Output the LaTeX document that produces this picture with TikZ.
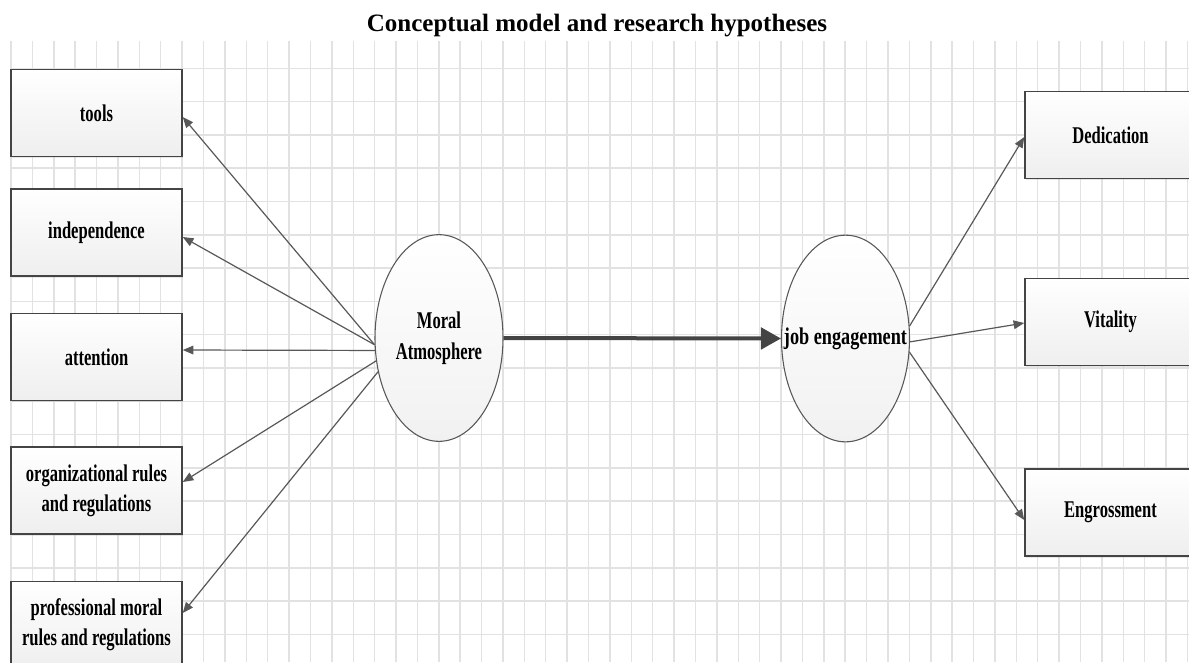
\documentclass[tikz,border=0pt]{standalone}
\usepackage{fontspec}
\setmainfont{Liberation Serif}
\newfontfamily\narrowserif[FakeStretch=0.69]{Liberation Serif}
\newfontfamily\halfnarrowserif[FakeStretch=0.76]{Liberation Serif}
\usetikzlibrary{shapes.geometric,arrows.meta,shadows,calc}
\definecolor{gridgray}{RGB}{226,226,226}
\definecolor{edgegray}{RGB}{68,68,68}
\definecolor{arrowgray}{RGB}{88,88,88}
\tikzset{
  headline/.style = {font=\bfseries\fontsize{18.75}{22}\selectfont, anchor=base},
  factor/.style   = {rectangle, draw=edgegray, line width=1.1pt, top color=white, bottom color=gray!13, minimum width=128.25pt, minimum height=65.25pt, inner sep=2pt, align=center, font=\narrowserif\bfseries\fontsize{18}{22.5}\selectfont, drop shadow={opacity=0.18, shadow xshift=1pt, shadow yshift=-1.2pt}},
  latent/.style   = {ellipse, draw=edgegray!90, line width=0.8pt, top color=white, bottom color=gray!11, minimum width=96pt, minimum height=155pt, inner sep=0pt, align=center, font=\narrowserif\bfseries\fontsize{18}{23}\selectfont},
  jobtext/.style  = {inner sep=0pt, font=\halfnarrowserif\bfseries\fontsize{18}{23}\selectfont},
  gridline/.style = {draw=gridgray, line width=1.1pt},
  tie/.style      = {draw=arrowgray, line width=0.9pt, -{Triangle[length=8pt,width=6.5pt]}},
  effect/.style   = {draw=edgegray, line width=3pt, -{Triangle[length=15pt,width=16pt]}}
}

\begin{document}
\begin{tikzpicture}[x=0.75pt, y=-0.75pt]
  \useasboundingbox (0,0) rectangle (1189,662);
  \clip (0,0) rectangle (1189,662);
  \foreach \k in {0,...,55} \draw[gridline] ({11+21.39*\k},40.7) -- ({11+21.39*\k},662);
  \foreach \k in {0,...,17} \draw[gridline] (11,{68.3+33.3*\k}) -- (1189,{68.3+33.3*\k});

  \node[headline] (heading) at (597,31) {Conceptual model and research hypotheses};

  \node[factor] (tools) at (96.5,113)   {tools};
  \node[factor] (indep) at (96.5,232.5) {independence};
  \node[factor] (atten) at (96.5,357)   {attention};
  \node[factor] (orgrules) at (96.5,490.5) {organizational rules\\and regulations};
  \node[factor] (profrules) at (96.5,625) {professional moral\\rules and regulations};

  \node[latent] (moral) at (439,338)  {Moral\\Atmosphere};
  \node[latent, label={[jobtext]center:job engagement}] (job) at (845.5,338.5) {};

  \node[factor] (dedic) at (1110.5,135)   {Dedication};
  \node[factor] (vital) at (1110.5,322)   {Vitality};
  \node[factor] (engro) at (1110.5,512.5) {Engrossment};

  \draw[tie] (moral.186) -- ($(tools.east)+(0,4)$);
  \draw[tie] (moral.186) -- ($(indep.east)+(0,4.5)$);
  \draw[tie] (moral.191) -- ($(atten.east)+(0,-7)$);
  \draw[tie] (moral.200) -- ($(orgrules.east)+(0,-8.5)$);
  \draw[tie] (moral.209) -- ($(profrules.east)+(0,-12)$);

  \draw[effect] (moral.east) -- (job.west);

  \draw[tie] (job.11) -- ($(dedic.west)+(0,2)$);
  \draw[tie] (job.-3) -- ($(vital.west)+(0,1)$);
  \draw[tie] (job.-12) -- ($(engro.west)+(0,7.5)$);
\end{tikzpicture}
\end{document}
